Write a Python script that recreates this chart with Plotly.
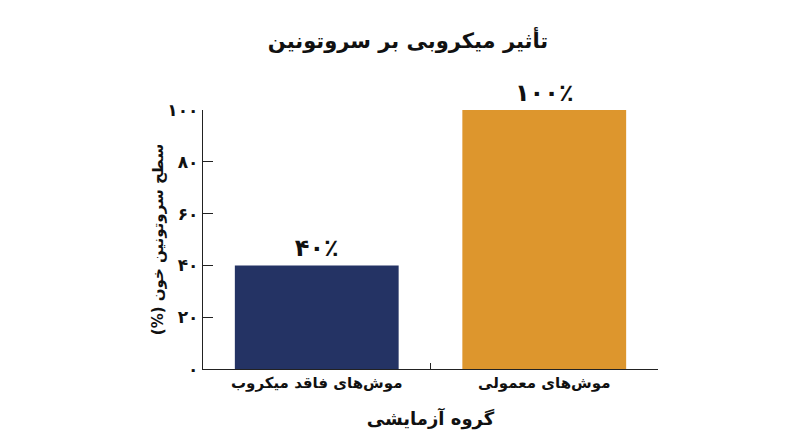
import plotly.graph_objects as go

# Data
groups = ["موش‌های فاقد میکروب", "موش‌های معمولی"]
serotonin = [40, 100]
bar_labels = ["۴۰٪", "۱۰۰٪"]
bar_colors = ["#243364", "#DD962D"]
y_tickvals = [0, 20, 40, 60, 80, 100]
y_ticktext = ["۰", "۲۰", "۴۰", "۶۰", "۸۰", "۱۰۰"]

font_fa = "DejaVu Sans"


def rtl(s):
    # force right-to-left embedding so the parentheses land on the proper side
    return "\u202B" + s + "\u202C"


fig = go.Figure()
fig.add_trace(go.Bar(
    x=groups,
    y=serotonin,
    marker=dict(color=bar_colors, line=dict(width=0)),
    text=["<b>" + t + "</b>" for t in bar_labels],
    textposition="outside",
    textfont=dict(family=font_fa, size=24, color="#111111"),
    cliponaxis=False,
    width=0.72,
))

# the page body adds an 8px offset, so margins are trimmed by 8
fig.update_layout(
    width=800,
    height=447,
    paper_bgcolor="white",
    plot_bgcolor="white",
    margin=dict(l=195, r=150, t=102, b=86),
    showlegend=False,
    title=dict(
        text="<b>تأثیر میکروبی بر سروتونین</b>",
        x=0.5, xanchor="center", y=0.926, yanchor="middle",
        font=dict(family=font_fa, size=21, color="#111111"),
    ),
    font=dict(family=font_fa, color="#111111"),
)

fig.update_xaxes(
    title=dict(text="<b>گروه آزمایشی</b>", font=dict(size=18), standoff=21),
    tickfont=dict(size=15),
    tickprefix="<b>", ticksuffix="</b>",
    showline=True, linecolor="#222222", linewidth=1.2,
    ticks="inside", tickson="boundaries", ticklen=6, tickcolor="#222222",
    showgrid=False, range=[-0.5, 1.5],
)
fig.update_yaxes(
    title=dict(text="<b>" + rtl("سطح سروتونین خون (%)") + "</b>",
               font=dict(size=15), standoff=0),
    tickvals=y_tickvals, ticktext=["<b>" + t + "</b>" for t in y_ticktext],
    tickfont=dict(size=17),
    showline=True, linecolor="#222222", linewidth=1.2,
    ticks="inside", ticklen=10, tickcolor="#222222",
    showgrid=False, zeroline=False, range=[0, 100],
)

fig.write_html("out.html")
